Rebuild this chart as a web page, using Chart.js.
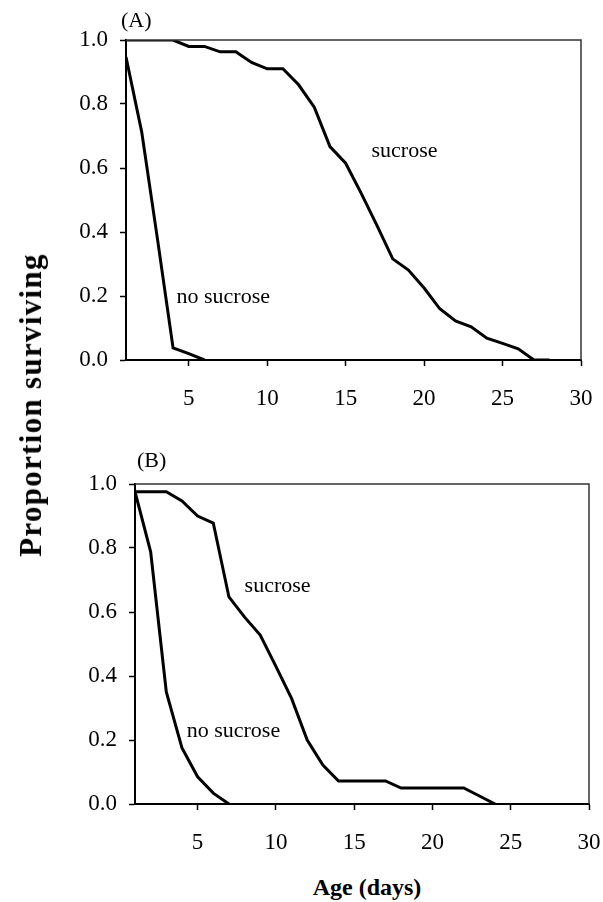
<!DOCTYPE html>
<html>
<head>
<meta charset="utf-8">
<script src="https://cdn.jsdelivr.net/npm/chart.js@4.4.1/dist/chart.umd.min.js"></script>
<style>
  body { margin: 0; background: #fff; width: 603px; height: 902px; position: relative; overflow: hidden; }
  canvas { position: absolute; left: 0; }
  #chartA { top: 0; }
  #chartB { top: 440px; }
  .title { position: absolute; font-family: "Liberation Serif", "Times New Roman", serif; font-weight: bold; color: #000; white-space: nowrap; }
  #ytitle { font-size: 31px; letter-spacing: 1.3px; left: 31px; top: 405px; transform: translate(-50%, -50%) rotate(-90deg); }
  #xtitle { font-size: 24px; left: 367px; top: 887px; transform: translate(-50%, -50%); }
</style>
</head>
<body>
<canvas id="chartA" width="603" height="420"></canvas>
<canvas id="chartB" width="603" height="420"></canvas>
<div id="ytitle" class="title">Proportion surviving</div>
<div id="xtitle" class="title">Age (days)</div>
<script>
// Panel A
const daysSucroseA = [1,2,3,4,5,6,7,8,9,10,11,12,13,14,15,16,17,18,19,20,21,22,23,24,25,26,27,28];
const sucroseA = [1.0,1.0,1.0,1.0,0.98,0.98,0.963,0.963,0.93,0.91,0.91,0.86,0.79,0.667,0.615,0.52,0.42,0.316,0.281,0.225,0.16,0.122,0.104,0.068,0.052,0.035,0,0];
const daysNoSucroseA = [1,2,3,4,5,6];
const noSucroseA = [0.947,0.713,0.38,0.038,0.02,0];

// Panel B
const daysSucroseB = [1,2,3,4,5,6,7,8,9,10,11,12,13,14,15,16,17,18,19,20,21,22,23,24];
const sucroseB = [0.976,0.976,0.976,0.947,0.9,0.878,0.647,0.584,0.528,0.43,0.33,0.2,0.122,0.072,0.072,0.072,0.072,0.05,0.05,0.05,0.05,0.05,0.025,0];
const daysNoSucroseB = [1,2,3,4,5,6,7];
const noSucroseB = [0.976,0.788,0.35,0.175,0.085,0.034,0];

const xTicks = [5,10,15,20,25,30];
const yTicks = [0,0.2,0.4,0.6,0.8,1.0];

const serif = '"Liberation Serif", "Times New Roman", serif';

function pts(xs, ys) {
    return xs.map((x, i) => ({x: x, y: ys[i]}));
}

// frame (top + right lines) and text labels
const extras = {
    id: 'extras',
    afterDraw(chart, args, opts) {
        const {ctx, chartArea: a, scales} = chart;
        ctx.save();
        ctx.strokeStyle = '#333';
        ctx.lineWidth = 1.5;
        ctx.beginPath();
        ctx.moveTo(a.left, a.top);
        ctx.lineTo(a.right, a.top);
        ctx.lineTo(a.right, a.bottom);
        ctx.stroke();

        ctx.fillStyle = '#000';
        ctx.font = '22px ' + serif;
        ctx.textBaseline = 'alphabetic';
        ctx.textAlign = 'left';
        opts.notes.forEach(n => {
            ctx.fillText(n.text, scales.x.getPixelForValue(n.x), scales.y.getPixelForValue(n.y));
        });
        ctx.textBaseline = 'middle';
        ctx.fillText(opts.panel, a.left + opts.panelDx, a.top + opts.panelDy);
        ctx.restore();
    }
};

function makeChart(id, datasets, yWidth, xHeight, padding, notes, panel, panelDx, panelDy) {
    const ctx = document.getElementById(id).getContext('2d');
    return new Chart(ctx, {
        type: 'line',
        data: { datasets: datasets },
        options: {
            responsive: false,
            animation: false,
            layout: { padding: padding },
            plugins: {
                legend: { display: false },
                tooltip: { enabled: false },
                extras: { notes: notes, panel: panel, panelDx: panelDx, panelDy: panelDy }
            },
            elements: {
                point: { radius: 0 },
                line: { borderColor: '#000', borderWidth: 3, tension: 0 }
            },
            scales: {
                x: {
                    type: 'linear',
                    min: 1,
                    max: 30,
                    afterBuildTicks: s => { s.ticks = xTicks.map(v => ({value: v})); },
                    afterFit: s => { s.height = xHeight; s.paddingLeft = 0; s.paddingRight = 0; },
                    grid: { drawOnChartArea: false, drawTicks: true, tickLength: 6, tickColor: '#000', tickWidth: 1.5 },
                    border: { color: '#000', width: 2 },
                    ticks: { color: '#000', padding: 19, maxRotation: 0, font: { family: serif, size: 23 } }
                },
                y: {
                    min: 0,
                    max: 1,
                    afterBuildTicks: s => { s.ticks = yTicks.map(v => ({value: v})); },
                    afterFit: s => { s.width = yWidth; s.paddingTop = 0; s.paddingBottom = 0; },
                    grid: { drawOnChartArea: false, drawTicks: true, tickLength: 6, tickColor: '#000', tickWidth: 1.5 },
                    border: { color: '#000', width: 2 },
                    ticks: { color: '#000', padding: 12, font: { family: serif, size: 23 }, callback: v => v.toFixed(1) }
                }
            }
        },
        plugins: [extras]
    });
}

makeChart('chartA', [
    { label: 'sucrose', data: pts(daysSucroseA, sucroseA) },
    { label: 'no sucrose', data: pts(daysNoSucroseA, noSucroseA) }
], 126, 60, { top: 40, right: 22, left: 0, bottom: 0 },
[{ text: 'sucrose', x: 16.65, y: 0.634 }, { text: 'no sucrose', x: 4.22, y: 0.178 }], '(A)', -5, -19);

makeChart('chartB', [
    { label: 'sucrose', data: pts(daysSucroseB, sucroseB) },
    { label: 'no sucrose', data: pts(daysNoSucroseB, noSucroseB) }
], 135, 56, { top: 44, right: 14, left: 0, bottom: 0 },
[{ text: 'sucrose', x: 8.0, y: 0.6625 }, { text: 'no sucrose', x: 4.3, y: 0.209 }], '(B)', 2, -23);
</script>
</body>
</html>
